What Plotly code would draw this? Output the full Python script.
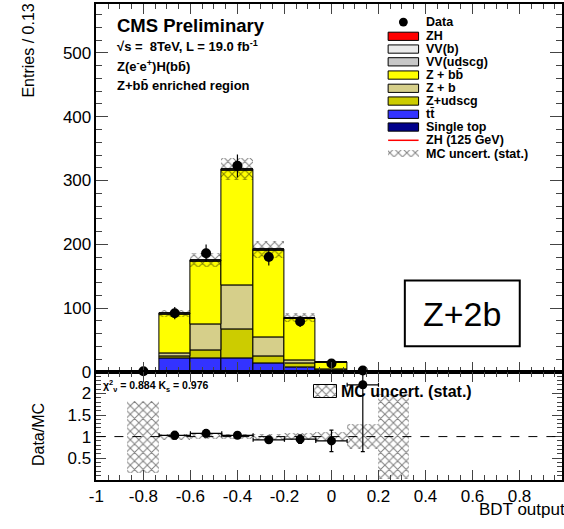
import numpy as np
import plotly.graph_objects as go

W, H = 564, 529

# ---------------- data ----------------
n_bins = 15
edges = [round(-1 + i * 2 / 15, 5) for i in range(n_bins + 1)]
centers = [(edges[i] + edges[i + 1]) / 2 for i in range(n_bins)]
bin_w = 2 / 15

single_top = [0, 0, 0.3, 0.4, 0.4, 0.2, 0.1, 0.0, 0, 0, 0, 0, 0, 0, 0]
ttbar      = [0, 0, 21, 21, 21, 13, 7.5, 0.5, 0, 0, 0, 0, 0, 0, 0]
z_udscg    = [0, 0, 3, 12, 45, 11, 5, 2.5, 0, 0, 0, 0, 0, 0, 0]
z_b        = [0, 0, 4, 41, 69, 29, 5, 1, 0, 0, 0, 0, 0, 0, 0]
z_bb       = [0, 0.3, 62, 99, 180, 137, 66, 10.5, 0.9, 0.1, 0, 0, 0, 0, 0]
vv_udscg   = [0, 0, 0.5, 0.5, 0.8, 0.6, 0.3, 0, 0, 0, 0, 0, 0, 0, 0]
vv_b       = [0, 0, 0.2, 0.3, 0.6, 0.5, 0.2, 0, 0, 0, 0, 0, 0, 0, 0]
zh         = [0, 0, 0.05, 0.1, 0.2, 0.2, 0.2, 0.1, 0, 0, 0, 0, 0, 0, 0]
zh125_line = [1.2] * n_bins

data = [0, 1, 92, 186, 323, 180, 79, 13, 2, 0, 0, 0, 0, 0, 0]
mc_err = [0, 0.25, 6, 11, 17, 13, 7, 1.5, 0.26, 0.1, 0, 0, 0, 0, 0]

ratio     = [None, None, 1.03, 1.075, 1.03, 0.925, 0.94, 0.90, 2.2, None, None, None, None, None, None]
ratio_err = [None, None, 0.09, 0.08, 0.06, 0.07, 0.10, 0.25, 1.55, None, None, None, None, None, None]

stack = [
    ("Single top", single_top, "#00008B"),
    ("tt\u0304", ttbar, "#3333FF"),
    ("Z+udscg", z_udscg, "#CCCC00"),
    ("Z + b", z_b, "#D6CF8A"),
    ("Z + bb\u0304", z_bb, "#FFFF00"),
    ("VV(udscg)", vv_udscg, "#C8C8C8"),
    ("VV(b)", vv_b, "#EBEBEB"),
    ("ZH", zh, "#FF0000"),
]

# ---------------- geometry ----------------
X0_PX, XUNIT = 90.0, 239.3
x_range = [-1, -1 + (W - X0_PX) / XUNIT]
main_bot, main_top = 379.0, 4.5
y_scale = 0.65
rat_bot = 489.0


def fx(px):
    return px / W


def fy(py):
    return 1 - py / H


FONT = "Liberation Sans, Arial, Helvetica, sans-serif"

fig = go.Figure()

# stacked histogram
cum = [0.0] * n_bins
for name, vals, col in stack:
    fig.add_trace(go.Bar(
        x=centers, y=vals, base=cum[:], width=bin_w,
        marker=dict(color=col, line=dict(color="black", width=1)),
        xaxis="x", yaxis="y", showlegend=False, name=name,
    ))
    cum = [c + v for c, v in zip(cum, vals)]
total = cum

# MC stat uncertainty band
band_x = [c for c, t in zip(centers, total) if t > 0]
band_base = [t - e for t, e in zip(total, mc_err) if t > 0]
band_h = [2 * e for t, e in zip(total, mc_err) if t > 0]
hatch = dict(shape="x", fgcolor="black", bgcolor="rgba(0,0,0,0)", size=6, solidity=0.3)
fig.add_trace(go.Bar(
    x=band_x, y=band_h, base=band_base, width=bin_w,
    marker=dict(color="rgba(0,0,0,0)", line=dict(width=0), pattern=hatch),
    xaxis="x", yaxis="y", showlegend=False,
))

# ZH (125 GeV) line
fig.add_trace(go.Scatter(
    x=edges, y=zh125_line + [zh125_line[-1]], mode="lines", line=dict(color="red", width=1.5, shape="hv"),
    xaxis="x", yaxis="y", showlegend=False,
))

# data points
dx = [c for c, d in zip(centers, data) if d > 0]
dy = [d for d in data if d > 0]
de = [float(np.sqrt(d)) for d in data if d > 0]
fig.add_trace(go.Scatter(
    x=dx, y=dy, mode="markers",
    marker=dict(color="black", size=10),
    error_y=dict(type="data", array=de, color="black", thickness=1.2, width=0),
    xaxis="x", yaxis="y", showlegend=False, cliponaxis=False,
))

# ratio panel band
rb_x, rb_base, rb_h = [], [], []
for c, t, e in zip(centers, total, mc_err):
    if t > 0:
        r = min(e / t, 0.98)
        rb_x.append(c); rb_base.append(1 - r); rb_h.append(2 * r)
fig.add_trace(go.Bar(
    x=rb_x, y=rb_h, base=rb_base, width=bin_w,
    marker=dict(color="rgba(0,0,0,0)", line=dict(width=0), pattern=hatch),
    xaxis="x2", yaxis="y2", showlegend=False,
))

# ratio points
rx = [c for c, r in zip(centers, ratio) if r is not None]
ry = [r for r in ratio if r is not None]
re_ = [e for e in ratio_err if e is not None]
fig.add_trace(go.Scatter(
    x=rx, y=ry, mode="markers",
    marker=dict(color="black", size=9),
    error_y=dict(type="data", array=re_, color="black", thickness=1.2, width=2),
    error_x=dict(type="constant", value=bin_w / 2, color="black", thickness=1.2, width=2),
    xaxis="x2", yaxis="y2", showlegend=False,
))

# ---------------- legend (manual) ----------------
shapes = []
annotations = []

leg_box_x0, leg_box_x1, leg_text_x = 387, 418, 423
rows = [
    ("Data", "dot", None, 22.5),
    ("ZH", "box", "#FF0000", 37),
    ("VV(b)", "box", "#EBEBEB", 50),
    ("VV(udscg)", "box", "#C8C8C8", 63),
    ("Z + bb\u0304", "box", "#FFFF00", 76.5),
    ("Z + b", "box", "#D6CF8A", 90),
    ("Z+udscg", "box", "#CCCC00", 103),
    ("tt\u0304", "box", "#3333FF", 116.5),
    ("Single top", "box", "#00008B", 129.5),
    ("ZH (125 GeV)", "line", "red", 143),
    ("MC uncert. (stat.)", "hatch", None, 156.5),
]
for label, kind, col, yc in rows:
    if kind == "box":
        shapes.append(dict(type="rect", xref="paper", yref="paper",
                           x0=fx(leg_box_x0), x1=fx(leg_box_x1), y0=fy(yc - 4.2), y1=fy(yc + 4.2),
                           fillcolor=col, line=dict(color="black", width=1)))
    elif kind == "dot":
        cx = (leg_box_x0 + leg_box_x1) / 2
        shapes.append(dict(type="circle", xref="paper", yref="paper",
                           x0=fx(cx - 4.5), x1=fx(cx + 4.5), y0=fy(yc - 4.5), y1=fy(yc + 4.5),
                           fillcolor="black", line=dict(color="black", width=0)))
    elif kind == "line":
        shapes.append(dict(type="line", xref="paper", yref="paper",
                           x0=fx(leg_box_x0), x1=fx(leg_box_x1), y0=fy(yc), y1=fy(yc),
                           line=dict(color="red", width=1.5)))
    annotations.append(dict(text="<b>%s</b>" % label, x=fx(leg_text_x), y=fy(yc), xref="paper", yref="paper",
                            xanchor="left", yanchor="middle", showarrow=False,
                            font=dict(family=FONT, size=12.5, color="black")))

# hatched legend symbols drawn on a pixel-mapped helper axis
fig.add_trace(go.Bar(
    x=[(leg_box_x0 + leg_box_x1) / 2, 323.5], y=[7, 14], base=[153, 392], width=[31, 23],
    marker=dict(color="rgba(0,0,0,0)", line=dict(color="black", width=[0, 1]), pattern=hatch),
    xaxis="x3", yaxis="y3", showlegend=False, hoverinfo="skip",
))

annotations.append(dict(text="<b>MC uncert. (stat.)</b>", x=fx(337), y=fy(399), xref="paper", yref="paper",
                        xanchor="left", yanchor="middle", showarrow=False,
                        font=dict(family=FONT, size=16, color="black")))

# ---------------- text labels ----------------
def add_text(txt, x, y, size, xanchor="left", yanchor="middle", angle=0, bold=True):
    annotations.append(dict(text=("<b>%s</b>" % txt) if bold else txt, x=fx(x), y=fy(y),
                            xref="paper", yref="paper", xanchor=xanchor, yanchor=yanchor,
                            showarrow=False, textangle=angle,
                            font=dict(family=FONT, size=size, color="black")))

add_text("CMS Preliminary", 109, 26, 18.5)
add_text("\u221As =  8TeV, L = 19.0 fb<sup>-1</sup>", 109, 47, 13)
add_text("Z(e<sup>-</sup>e<sup>+</sup>)H(bb\u0304)", 109, 67, 13)
add_text("Z+bb\u0304 enriched region", 109, 87.5, 13)
add_text("\u03C7<sup>2</sup><sub>\u03BD</sub> = 0.884 K<sub>s</sub> = 0.976", 95, 393, 10.5)

add_text("Entries / 0.13", 21, 2, 16, xanchor="center", yanchor="top", angle=-90, bold=False)
add_text("Data/MC", 31, 443, 16, xanchor="center", yanchor="middle", angle=-90, bold=False)
add_text("BDT output", 569, 519, 17, xanchor="right", yanchor="middle", bold=False)

# Z+2b box
shapes.append(dict(type="rect", xref="paper", yref="paper", x0=fx(404), x1=fx(521), y0=fy(353), y1=fy(286),
                   line=dict(color="black", width=2), fillcolor="white"))
add_text("Z+2b", 462.5, 320, 34, xanchor="center", yanchor="middle", bold=False)

# dashed line at ratio = 1
shapes.append(dict(type="line", xref="x2 domain", yref="y2", x0=0, x1=1, y0=1, y1=1,
                   line=dict(color="black", width=1, dash="dash")))

tickfont = dict(family=FONT, size=17, color="black")
common_x = dict(range=x_range, domain=[fx(X0_PX), 1], ticks="inside", tick0=-1, dtick=0.2,
                ticklen=10, tickwidth=1, showline=True, linecolor="black", linewidth=1.5,
                mirror="allticks", zeroline=False, showgrid=False,
                minor=dict(ticks="inside", dtick=0.05, ticklen=5, tickwidth=1, showgrid=False))

fig.update_layout(
    width=W, height=H,
    margin=dict(l=0, r=0, t=0, b=0),
    paper_bgcolor="white", plot_bgcolor="rgba(0,0,0,0)",
    barmode="overlay", bargap=0,
    showlegend=False,
    xaxis=dict(common_x, anchor="y", showticklabels=False),
    yaxis=dict(range=[0, (main_bot - main_top) / y_scale], domain=[fy(main_bot), fy(main_top)],
               anchor="x", ticks="inside", tick0=0, dtick=100, ticklen=12, tickwidth=1,
               showline=True, linecolor="black", linewidth=1.5, mirror="allticks",
               zeroline=False, showgrid=False, tickfont=tickfont,
               minor=dict(ticks="inside", dtick=20, ticklen=6, tickwidth=1, showgrid=False)),
    xaxis2=dict(common_x, anchor="y2", showticklabels=True, tickfont=tickfont,
                tickvals=[-1, -0.8, -0.6, -0.4, -0.2, 0, 0.2, 0.4, 0.6, 0.8],
                ticktext=["-1", "-0.8", "-0.6", "-0.4", "-0.2", "0", "0.2", "0.4", "0.6", "0.8"]),
    yaxis2=dict(range=[0, 2.5], domain=[fy(rat_bot), fy(main_bot)], anchor="x2",
                ticks="inside", tickvals=[0.5, 1, 1.5, 2], ticklen=10, tickwidth=1,
                showline=True, linecolor="black", linewidth=1.5, mirror="allticks",
                zeroline=False, showgrid=False, tickfont=tickfont,
                minor=dict(ticks="inside", dtick=0.1, ticklen=5, tickwidth=1, showgrid=False)),
    xaxis3=dict(range=[0, W], domain=[0, 1], anchor="y3", visible=False, fixedrange=True),
    yaxis3=dict(range=[H, 0], domain=[0, 1], anchor="x3", visible=False, fixedrange=True),
    shapes=shapes,
    annotations=annotations,
)

fig.write_html("out.html", config={"displayModeBar": False},
               post_script="document.body.style.margin='0';document.body.style.padding='0';")
